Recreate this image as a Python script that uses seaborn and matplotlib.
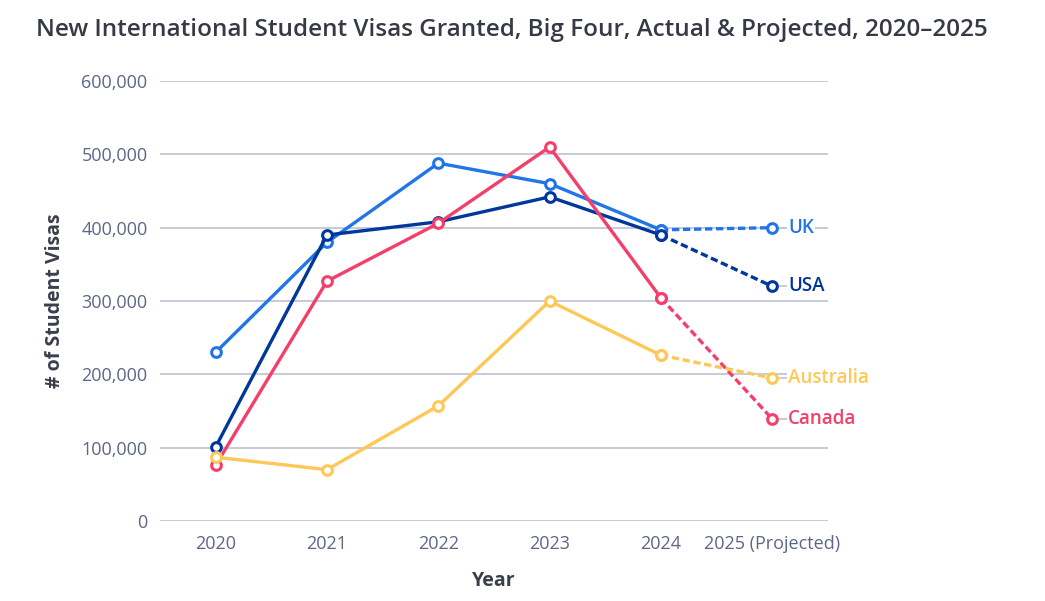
import matplotlib
matplotlib.use("Agg")
import matplotlib.pyplot as plt
import seaborn as sns
import pandas as pd

years = ["2020", "2021", "2022", "2023", "2024", "2025 (Projected)"]
countries = ["UK", "USA", "Canada", "Australia"]
uk = [230000, 380000, 488000, 460000, 397000, 400000]
usa = [101000, 390000, 408000, 442000, 390000, 320000]
canada = [76000, 327000, 406000, 510000, 304000, 139000]
australia = [87000, 70000, 157000, 300000, 226000, 195000]
colors = {"UK": "#2275e6", "USA": "#00379b", "Canada": "#f43f6b", "Australia": "#fec857"}

series = {"UK": uk, "USA": usa, "Canada": canada, "Australia": australia}
rows = []
for c in countries:
    for i, v in enumerate(series[c]):
        rows.append({"pos": i, "year": years[i], "visas": v, "country": c})
df = pd.DataFrame(rows)
actual = df[df.pos <= 4]
proj = df[df.pos >= 4]

sns.set_theme(style="white")
plt.rcParams["font.family"] = ["Open Sans", "DejaVu Sans"]

fig = plt.figure(figsize=(10.45, 6.01), dpi=100)
ax = fig.add_axes([160 / 1045, 80 / 601, 668 / 1045, 440 / 601])

grid_c = "#c3c6d4"
tick_c = "#5d6786"
for y in range(0, 600001, 100000):
    ax.axhline(y, color=grid_c, lw=1.3, zorder=0)

line_kw = dict(marker="o", markersize=7, markerfacecolor="white",
               markeredgewidth=2.2, linewidth=2.4, legend=False)
sns.lineplot(data=proj, x="pos", y="visas", hue="country", hue_order=countries,
             palette=colors, ax=ax, linestyle=(0, (2.2, 1.1)), **line_kw)
sns.lineplot(data=actual, x="pos", y="visas", hue="country", hue_order=countries,
             palette=colors, ax=ax, **line_kw)
# seaborn draws white marker edges; give the rings the line colour
for ln in ax.lines:
    ln.set_markeredgecolor(ln.get_color())
    ln.set_markerfacecolor("white")

# end labels
for c in countries:
    yv = series[c][-1]
    ax.plot([5.07, 5.13], [yv, yv], color=grid_c, lw=1.3, zorder=1, clip_on=False)
    ax.text(5.14, yv, c, color=colors[c], fontsize=13.5, va="center",
            ha="left", fontweight="semibold", clip_on=False,
            bbox=dict(facecolor="white", edgecolor="none", pad=0.5))

ax.set_xlim(-0.5, 5.5)
ax.set_ylim(0, 600000)
ax.set_xticks(range(len(years)))
ax.set_xticklabels(years)
ax.set_yticks(range(0, 600001, 100000))
ax.yaxis.set_major_formatter(matplotlib.ticker.FuncFormatter(lambda v, p: f"{int(v):,}"))
ax.tick_params(axis="both", length=0, labelsize=13, labelcolor=tick_c)
ax.tick_params(axis="y", pad=9)
ax.tick_params(axis="x", pad=10)
for s in ax.spines.values():
    s.set_visible(False)

ax.set_xlabel("Year", fontsize=14, fontweight="bold", color="#3b3f4c", labelpad=13)
ax.set_ylabel("# of Student Visas", fontsize=14, fontweight="bold", color="#3b3f4c", labelpad=12)

fig.text(36 / 1045, 1 - 30 / 601,
         "New International Student Visas Granted, Big Four, Actual & Projected, 2020\u20132025",
         fontsize=17.5, fontweight="semibold", color="#363a45", ha="left", va="center")

fig.savefig("out.png", dpi=100, facecolor="white")
